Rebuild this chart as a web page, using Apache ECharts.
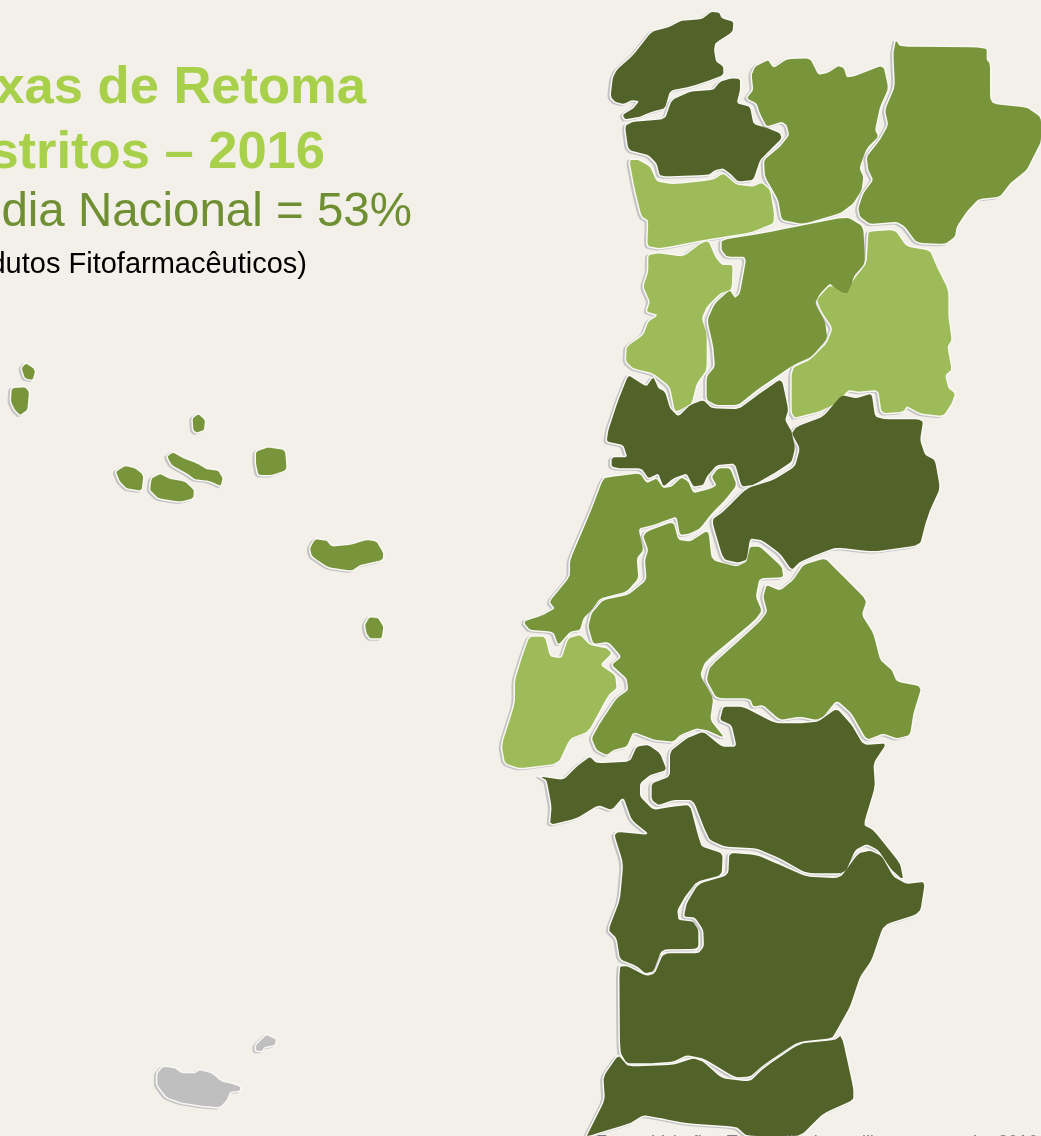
<!DOCTYPE html>
<html><head><meta charset="utf-8">
<style>html,body{margin:0;padding:0;background:#f3f0ea;overflow:hidden}#c{width:1041px;height:1136px}</style>
<script src="https://cdn.jsdelivr.net/npm/echarts@6/dist/echarts.min.js"></script></head>
<body><div id="c"></div>
<script>
const bgColor='#f3f0ea';
const tierColors={alta:'#52632a',media:'#78953c',baixa:'#9dbb59',semDados:'#bfbfbf'};
const titleLines=['Taxas de Retoma','nos Distritos – 2016','Média Nacional = 53%','(Embalagens de Produtos Fitofarmacêuticos)'];
const sourceLine='Fonte: Valorfito. Todos distritos e ilhas, campanha 2016';
const districts=['Viana do Castelo','Braga','Vila Real','Bragança','Porto','Aveiro','Viseu','Guarda','Coimbra','Leiria','Santarém','Castelo Branco','Lisboa','Portalegre','Setúbal','Évora','Beja','Faro','Açores','Madeira'];
const districtTier=['alta','alta','media','media','baixa','baixa','media','baixa','alta','media','media','alta','baixa','media','alta','alta','alta','alta','media','semDados'];
// outlines are traced per crop of the picture: [originX, originY] plus points at 3x
const north=[590,0],centre=[490,370],south=[530,740],azores=[0,350],madeira=[140,1020];
const outlines={
'Viana do Castelo':[[north,[62,290,68,235,80,210,130,165,185,95,235,82,275,62,335,58,365,35,388,38,395,55,430,65,428,95,375,130,372,150,378,185,400,200,400,225,355,242,300,260,240,272,225,325,185,335,150,350,105,358,98,345,130,325,148,303,125,300,100,312,75,305]]],
'Braga':[[north,[105,378,130,365,225,358,245,300,300,275,370,270,390,245,425,235,450,237,450,270,440,310,480,320,490,372,535,385,570,400,575,415,535,455,510,480,490,540,445,545,420,520,400,505,375,510,355,525,210,530,200,490,175,465,115,450]]],
'Vila Real':[[north,[485,225,495,200,535,180,550,205,590,178,660,175,685,225,715,218,745,198,762,205,770,232,790,230,880,195,895,265,870,320,855,390,865,410,830,445,808,505,820,530,815,570,790,610,750,640,640,672,575,660,565,600,525,530,522,480,570,440,598,405,590,375,575,365,530,380,510,340,500,310,470,295,490,270]]],
'Bragança':[[north,[918,120,930,140,1190,142,1190,180,1200,190,1200,295,1210,312,1310,322,1353,352,1353,425,1330,470,1310,510,1260,550,1230,590,1165,597,1130,635,1100,680,1095,710,1065,732,980,728,945,680,920,665,840,672,810,650,805,625,820,580,850,540,835,510,830,470,870,420,895,375,885,330,915,260,910,160]]],
'Porto':[[north,[118,480,145,480,180,500,200,545,250,553,370,540,400,520,440,555,490,560,515,548,540,570,552,640,550,670,480,698,350,718,210,745,172,738,175,660,155,650,135,570]]],
'Aveiro':[[north,[175,765,205,760,280,770,330,732,355,722,375,770,395,795,428,795,425,868,390,880,350,920,335,955,350,1000,350,1110,320,1150,305,1210,270,1230,255,1235,240,1160,190,1120,130,1105,108,1085,110,1040,160,1005,175,965,205,945,170,935,180,905,160,860,175,815]]],
'Viseu':[[north,[395,720,520,700,770,650,820,680,825,790,790,830,780,885,745,875,720,850,690,880,675,910,705,965,712,1015,665,1070,610,1095,500,1170,445,1215,380,1215,350,1200,350,1130,375,1100,370,1040,352,960,375,910,420,870,435,895,450,880,470,770,410,770,395,750]]],
'Guarda':[[north,[840,695,915,690,950,740,1020,752,1040,800,1075,870,1075,950,1085,1020,1072,1040,1085,1110,1065,1125,1075,1165,1095,1180,1085,1210,1060,1248,990,1240,950,1218,940,1235,875,1240,865,1170,805,1175,775,1170,740,1210,685,1235,605,1255,605,1105,660,1080,710,1030,728,985,695,935,680,900,720,855,770,885,790,840,830,790,835,700]]],
'Coimbra':[[centre,[415,15,445,35,470,50,490,20,505,55,525,65,540,115,565,140,600,105,640,90,665,115,745,118,810,70,875,25,895,120,885,150,905,185,915,235,905,275,860,305,790,345,755,350,735,280,680,285,650,320,640,345,610,350,590,310,550,325,520,350,505,310,475,325,455,295,390,295,365,290,365,262,412,262,400,225,350,215,355,180,385,90]]],
'Leiria':[[centre,[340,325,370,320,450,310,470,340,500,325,520,355,545,350,575,322,595,335,610,370,665,355,680,345,665,320,685,295,720,295,740,345,705,390,665,430,630,475,600,490,570,495,560,440,530,450,490,465,445,475,460,540,440,565,445,625,410,665,330,685,305,720,280,745,270,780,240,785,205,825,190,785,120,780,100,755,160,735,195,715,178,695,240,620,240,570,300,430]]],
'Santarém':[[centre,[470,485,550,455,565,510,600,515,655,480,665,570,740,590,770,575,780,530,810,530,875,590,880,622,808,625,797,680,815,722,795,750,645,875,630,915,670,985,660,1050,705,1105,650,1080,620,1075,570,1095,550,1115,495,1110,430,1085,410,1130,370,1140,350,1155,320,1140,305,1105,330,1060,380,985,415,960,410,925,365,885,395,860,355,815,310,822,295,770,305,730,340,690,415,675,470,630,465,570,475,540,460,500]]],
'Castelo Branco':[[centre,[920,170,1000,140,1055,75,1100,85,1145,70,1155,140,1185,148,1300,148,1290,210,1305,255,1335,270,1350,355,1320,420,1305,465,1290,525,1150,545,1040,532,990,550,930,575,905,600,870,550,815,510,780,505,770,570,745,578,700,568,665,450,700,425,770,355,850,330,915,290,930,235,905,190]]],
'Lisboa':[[centre,[118,800,165,800,180,860,215,865,235,805,270,795,300,825,350,835,365,850,330,885,375,915,380,955,355,975,295,1085,240,1105,205,1180,90,1195,45,1180,35,1125,75,1000,75,930,95,865]]],
'Portalegre':[[centre,[1005,565,1040,600,1130,690,1115,735,1150,790,1170,870,1205,900,1220,935,1295,950,1270,1030,1260,1095,1220,1105,1180,1090,1130,1110,1085,1030,1040,990,1000,1040,980,1050,930,1040,870,1050,820,1005,790,1010,780,985,680,985,650,930,660,890,810,755,832,725,820,680,830,645,870,662,910,630,940,585]]],
'Setúbal':[[south,[30,110,100,120,140,80,180,50,200,70,300,65,320,20,355,15,390,40,410,90,360,105,330,130,330,170,370,210,430,200,480,195,505,290,515,320,578,340,575,405,500,425,465,470,442,510,445,540,490,545,505,570,505,620,495,627,395,628,370,695,345,700,320,678,270,658,260,595,235,570,270,480,280,370,250,275,360,285,305,240,280,170,245,210,205,195,140,235,60,255,65,200,50,120]]],
'Évora':[[south,[420,35,470,-5,520,-25,575,20,620,20,605,-45,570,-60,580,-100,640,-100,735,-50,810,-50,865,-55,920,-95,965,-45,1000,15,1070,10,1030,70,1035,140,1000,255,1030,270,1110,370,1120,420,1085,390,1045,330,1010,312,975,330,945,400,830,400,750,355,680,325,585,320,540,300,525,270,490,180,430,180,385,195,365,180,365,130,420,110]]],
'Beja':[[south,[598,338,680,345,750,375,830,410,930,415,985,340,1020,332,1055,348,1090,410,1130,432,1185,425,1170,520,1060,555,1025,660,990,710,960,800,915,880,905,895,805,905,700,975,660,1010,615,1012,520,955,470,945,430,965,360,970,290,970,270,935,268,680,290,678,350,708,375,700,400,640,505,640,522,620,520,570,495,532,462,530,470,490,505,432,595,405]]],
'Faro':[[south,[265,945,295,980,430,975,490,955,520,965,575,1015,660,1025,700,985,810,910,915,900,935,885,970,1045,970,1080,880,1120,820,1180,800,1188,650,1188,620,1160,470,1150,395,1135,340,1125,300,1150,175,1188,170,1188,225,1080,220,1010]]],
'Açores':[
[azores,[65,55,78,40,100,55,105,65,98,90,75,85]],
[azores,[35,115,75,112,87,125,82,180,60,195,45,180,33,155]],
[azores,[578,205,595,192,615,210,612,240,590,248,580,240]],
[azores,[768,305,805,292,855,300,860,360,815,375,775,375,768,340]],
[azores,[502,320,518,307,550,325,590,340,620,358,655,362,668,385,662,408,645,400,625,392,585,388,560,370,515,345]],
[azores,[348,365,375,348,405,355,430,375,425,422,380,415,360,395]],
[azores,[455,385,480,372,510,387,555,395,582,420,580,445,540,455,475,445,450,420]],
[azores,[930,595,945,568,980,572,995,590,1050,585,1100,570,1130,575,1150,610,1148,630,1080,645,1055,662,985,652,935,618]],
[azores,[1095,825,1108,802,1135,805,1150,830,1145,865,1110,865,1100,850]]],
'Madeira':[
[madeira,[52,160,70,140,105,145,125,160,165,160,180,150,215,160,245,185,270,190,300,200,300,212,270,215,260,240,240,262,190,258,125,248,80,232,52,195]],
[madeira,[348,75,380,45,408,58,405,75,370,82,368,92,348,92]]]
};
// Rounds the traced corners slightly so coast and river lines read as curves.
function roundCorners(pts,t){const out=[];pts.forEach((p,i)=>{const q=pts[(i+1)%pts.length];out.push([p[0]+(q[0]-p[0])*t,p[1]+(q[1]-p[1])*t],[p[0]+(q[0]-p[0])*(1-t),p[1]+(q[1]-p[1])*(1-t)]);});return out;}
function ring([o,f]){let r=[];for(let i=0;i<f.length;i+=2)r.push([o[0]+f[i]/3,o[1]+f[i+1]/3]);r=roundCorners(roundCorners(r,0.12),0.12);r.push(r[0]);return r;}
const geo={type:'FeatureCollection',features:districts.map(n=>({type:'Feature',properties:{name:n},geometry:{type:'MultiPolygon',coordinates:outlines[n].map(p=>[ring(p)])}}))};
echarts.registerMap('ptHalo',JSON.parse(JSON.stringify(geo)));
echarts.registerMap('ptFill',JSON.parse(JSON.stringify(geo)));
const identity={project:p=>p,unproject:p=>p};
const base={type:'map',projection:identity,boundingCoords:[[0,0],[1041,1136]],layoutCenter:[520.5,568],layoutSize:1136,roam:false,silent:true,selectedMode:false,label:{show:false},emphasis:{disabled:true}};
const txt=(text,right,top,fs,fw,color)=>({text,right,top,padding:0,textStyle:{fontFamily:'Liberation Sans',fontSize:fs,lineHeight:fs,fontWeight:fw,color}});
const chart=echarts.init(document.getElementById('c'),null,{renderer:'canvas'});
chart.setOption({
 backgroundColor:bgColor,animation:false,
 title:[
  txt(titleLines[0],675,62,52.5,'bold','#a9d04a'),
  txt(titleLines[1],716,127,52.5,'bold','#a9d04a'),
  txt(titleLines[2],629,189,47.5,'normal','#6f8f32'),
  txt(titleLines[3],734,250,29,'normal','#000000'),
  txt(sourceLine,3,1134,18,'normal','#7f7f7f')
 ],
 series:[
  Object.assign({},base,{map:'ptHalo',z:1,itemStyle:{areaColor:'#f9f8f5',borderColor:'#f9f8f5',borderWidth:3,shadowColor:'#c4c4c4',shadowBlur:0,shadowOffsetX:-2,shadowOffsetY:1},
    data:districts.map(n=>({name:n}))}),
  Object.assign({},base,{map:'ptFill',z:2,data:districts.map((n,i)=>({name:n,itemStyle:{areaColor:tierColors[districtTier[i]],borderWidth:0}}))})
 ]
});
</script></body></html>
